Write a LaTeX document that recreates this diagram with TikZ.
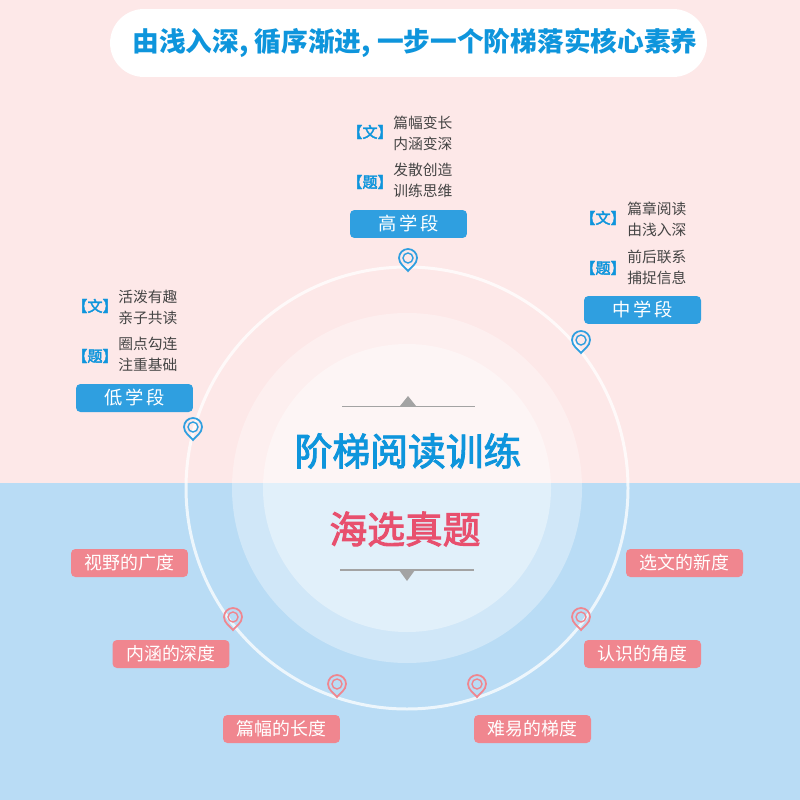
\documentclass[tikz,border=0pt]{standalone}
\usepackage{fontspec}
\usetikzlibrary{shapes.misc}
\setmainfont{Noto Sans CJK SC}
\newfontfamily\headfont[FakeBold=2.5]{Noto Sans CJK SC}
\begin{document}
\begin{tikzpicture}[x=0.02cm, y=-0.02cm,
  every node/.style={font=\fontsize{8.4pt}{12pt}\selectfont, inner sep=0pt, text=txtgray},
  grade/.style={fill=gradeblue, rounded corners=2.5pt, minimum width=2.34cm, minimum height=0.56cm, text=white, font=\fontsize{10.4pt}{12pt}\selectfont},
  aspect/.style={fill=aspectpink, rounded corners=2.5pt, minimum width=2.34cm, minimum height=0.56cm, text=white, font=\fontsize{10.2pt}{12pt}\selectfont},
  tag/.style={text=tagblue, font=\fontsize{8.6pt}{10pt}\headfont},
  note/.style={anchor=west, align=left},
  pinmark/.pic={
    \draw[line width=1pt, pic actions] (0,12) .. controls (-3,8) and (-9,5) .. (-9,-1) .. controls (-9,-6) and (-5,-10) .. (0,-10) .. controls (5,-10) and (9,-6) .. (9,-1) .. controls (9,5) and (3,8) .. cycle;
    \draw[line width=0.8pt, pic actions] (0,-1) circle [radius=5];
  }]
\definecolor{txtgray}{HTML}{444444}
\definecolor{gradeblue}{HTML}{2F9FE0}
\definecolor{tagblue}{HTML}{0E95DC}
\definecolor{subred}{HTML}{E8506E}
\definecolor{aspectpink}{HTML}{F0868F}
\definecolor{bgpink}{HTML}{FDE8E8}
\definecolor{bgblue}{HTML}{B9DCF5}
\definecolor{rulegray}{HTML}{A3A3A3}
% background
\fill[bgpink] (0,0) rectangle (800,483);
\fill[bgblue] (0,483) rectangle (800,800);
\fill[white, fill opacity=0.33] (407,488) circle [radius=175];
\fill[white, fill opacity=0.38] (407,488) circle [radius=144];
\draw[white, line width=1.7pt, draw opacity=0.75] (407,488) circle [radius=221];
% title
\node[rounded rectangle, fill=white, minimum width=11.94cm, minimum height=1.36cm] (title) at (408.5,43) {};
\node[text=tagblue, font=\fontsize{15.2pt}{18pt}\selectfont\bfseries] (titletext) at (415,43) {由浅入深, 循序渐进, 一步一个阶梯落实核心素养};
% centre
\node[text=tagblue, font=\fontsize{21.5pt}{24pt}\headfont] (maintitle) at (408,451) {阶梯阅读训练};
\node[text=subred, font=\fontsize{21.5pt}{24pt}\headfont] (subtitle) at (405,529) {海选真题};
\draw[rulegray, line width=1.1pt] (342,406.5) -- (475,406.5);
\fill[rulegray] (408,396) -- (416,406) -- (400,406) -- cycle;
\draw[rulegray, line width=1.1pt] (340,570) -- (474,570);
\fill[rulegray] (407,581) -- (415,570) -- (399,570) -- cycle;
% high
\node[grade] (high) at (408.5,224) {高\,学\,段};
\node[tag] (hightag1) at (370,132) {【文】};
\node[note] (highnote1) at (393,133) {篇幅变长\\内涵变深};
\node[tag] (hightag2) at (370,182) {【题】};
\node[note] (highnote2) at (393,180) {发散创造\\训练思维};
\pic[gradeblue] at (408,259) {pinmark};
% middle
\node[grade] (mid) at (642.5,310) {中\,学\,段};
\node[tag] (midtag1) at (603,218) {【文】};
\node[note] (midnote1) at (627,219.5) {篇章阅读\\由浅入深};
\node[tag] (midtag2) at (603,268) {【题】};
\node[note] (midnote2) at (627,267) {前后联系\\捕捉信息};
\pic[gradeblue] at (581,341) {pinmark};
% low
\node[grade] (low) at (134.5,398) {低\,学\,段};
\node[tag] (lowtag1) at (95,306) {【文】};
\node[note] (lownote1) at (118,307) {活泼有趣\\亲子共读};
\node[tag] (lowtag2) at (95,356) {【题】};
\node[note] (lownote2) at (118,354) {圈点勾连\\注重基础};
\pic[gradeblue] at (193,428) {pinmark};
% aspects
\node[aspect] (view) at (129.5,563) {视野的广度};
\node[aspect] (select) at (684.5,563) {选文的新度};
\node[aspect] (depth) at (171,654) {内涵的深度};
\node[aspect] (angle) at (642.5,654) {认识的角度};
\node[aspect] (length) at (281.5,729) {篇幅的长度};
\node[aspect] (slope) at (532.5,729) {难易的梯度};
\pic[aspectpink] at (233,618) {pinmark};
\pic[aspectpink] at (337,685) {pinmark};
\pic[aspectpink] at (477,685) {pinmark};
\pic[aspectpink] at (581,618) {pinmark};
\end{tikzpicture}
\end{document}
